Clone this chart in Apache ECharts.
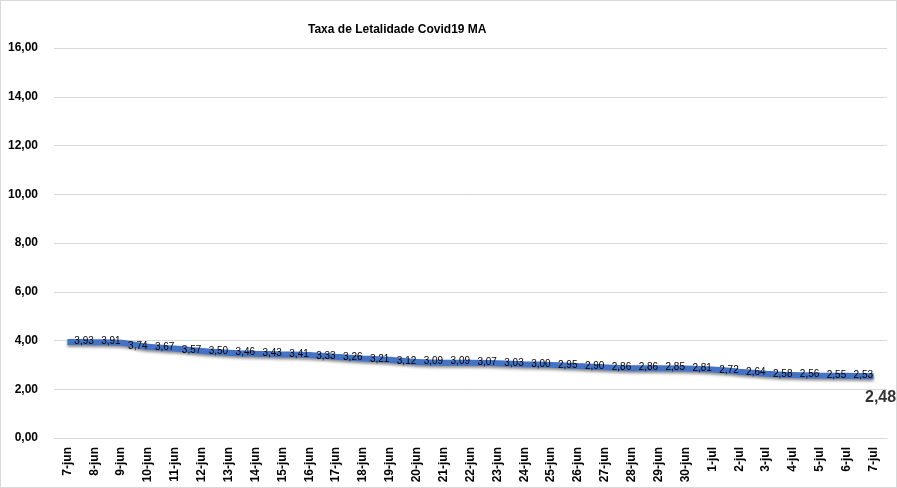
<!DOCTYPE html>
<html>
<head>
<meta charset="utf-8">
<script src="https://cdn.jsdelivr.net/npm/echarts@6/dist/echarts.min.js"></script>
<style>
  html, body { margin: 0; padding: 0; background: #fff; }
  #wrap { width: 897px; height: 488px; box-sizing: border-box; border: 1px solid #d9d9d9; }
  #chart { width: 895px; height: 486px; }
</style>
</head>
<body>
<div id="wrap"><div id="chart"></div></div>
<script>
// dias
const dias = [
  '7-jun', '8-jun', '9-jun', '10-jun', '11-jun', '12-jun', '13-jun', '14-jun',
  '15-jun', '16-jun', '17-jun', '18-jun', '19-jun', '20-jun', '21-jun', '22-jun',
  '23-jun', '24-jun', '25-jun', '26-jun', '27-jun', '28-jun', '29-jun', '30-jun',
  '1-jul', '2-jul', '3-jul', '4-jul', '5-jul', '6-jul', '7-jul'
]
// taxa de letalidade (%)
const taxa = [
  3.94, 3.93, 3.91, 3.74, 3.67, 3.57, 3.50, 3.46, 3.43, 3.41, 3.33, 3.26, 3.21,
  3.12, 3.09, 3.09, 3.07, 3.03, 3.00, 2.95, 2.90, 2.86, 2.86, 2.85, 2.81, 2.72,
  2.64, 2.58, 2.56, 2.55, 2.53
]
// valor destacado no último dia
const destaque = { dia: '7-jul', valor: 2.48 }
const yTicks = { min: 0, max: 16, interval: 2 }

const fmt = v => Number(v).toFixed(2).replace('.', ',')
const fonte = '"Liberation Sans", Arial, sans-serif'

const chart = echarts.init(document.getElementById('chart'))

const option = {
  animation: false,
  title: {
    text: 'Taxa de Letalidade Covid19 MA',
    left: 302,
    top: 18,
    textStyle: { fontFamily: fonte, fontSize: 12, fontWeight: 'bold', color: '#000' }
  },
  grid: { left: 53, right: 9, top: 47, bottom: 49 },
  xAxis: {
    type: 'category',
    data: dias,
    boundaryGap: true,
    axisLine: { show: true, lineStyle: { color: '#d9d9d9' } },
    axisTick: { show: false },
    axisLabel: {
      interval: 0,
      rotate: 90,
      margin: 9,
      fontFamily: fonte,
      fontSize: 12,
      fontWeight: 'bold',
      color: '#000'
    }
  },
  yAxis: {
    type: 'value',
    min: yTicks.min,
    max: yTicks.max,
    interval: yTicks.interval,
    axisLine: { show: false },
    axisTick: { show: false },
    splitLine: { lineStyle: { color: '#d9d9d9', width: 1 } },
    axisLabel: {
      margin: 16,
      formatter: fmt,
      fontFamily: fonte,
      fontSize: 12,
      fontWeight: 'bold',
      color: '#000'
    }
  },
  series: [
    {
      name: 'Taxa',
      type: 'line',
      data: taxa.map((v, i) => i === 0 ? { value: v, label: { show: false } } : v),
      smooth: 0.3,
      symbol: 'circle',
      symbolSize: 1,
      showSymbol: true,
      itemStyle: { color: 'rgba(68,114,196,0)' },
      lineStyle: {
        width: 6,
        color: '#4472c4',
        shadowColor: 'rgba(0,0,0,0.45)',
        shadowBlur: 3,
        shadowOffsetY: 2
      },
      label: {
        show: true,
        position: 'left',
        distance: 0,
        offset: [0, -1],
        formatter: p => fmt(p.value),
        fontFamily: fonte,
        fontSize: 10,
        color: '#000'
      }
    },
    {
      name: 'Destaque',
      type: 'scatter',
      data: [[destaque.dia, destaque.valor]],
      symbol: 'circle',
      symbolSize: 1,
      itemStyle: { color: 'rgba(0,0,0,0)' },
      label: {
        show: true,
        position: 'bottom',
        distance: 12,
        offset: [7, 0],
        formatter: p => fmt(p.value[1]),
        fontFamily: fonte,
        fontSize: 16,
        fontWeight: 'bold',
        color: '#000',
        textBorderWidth: 0
      }
    }
  ]
}

chart.setOption(option)

window.addEventListener('resize', () => {
  chart?.resize()
})
</script>
</body>
</html>
